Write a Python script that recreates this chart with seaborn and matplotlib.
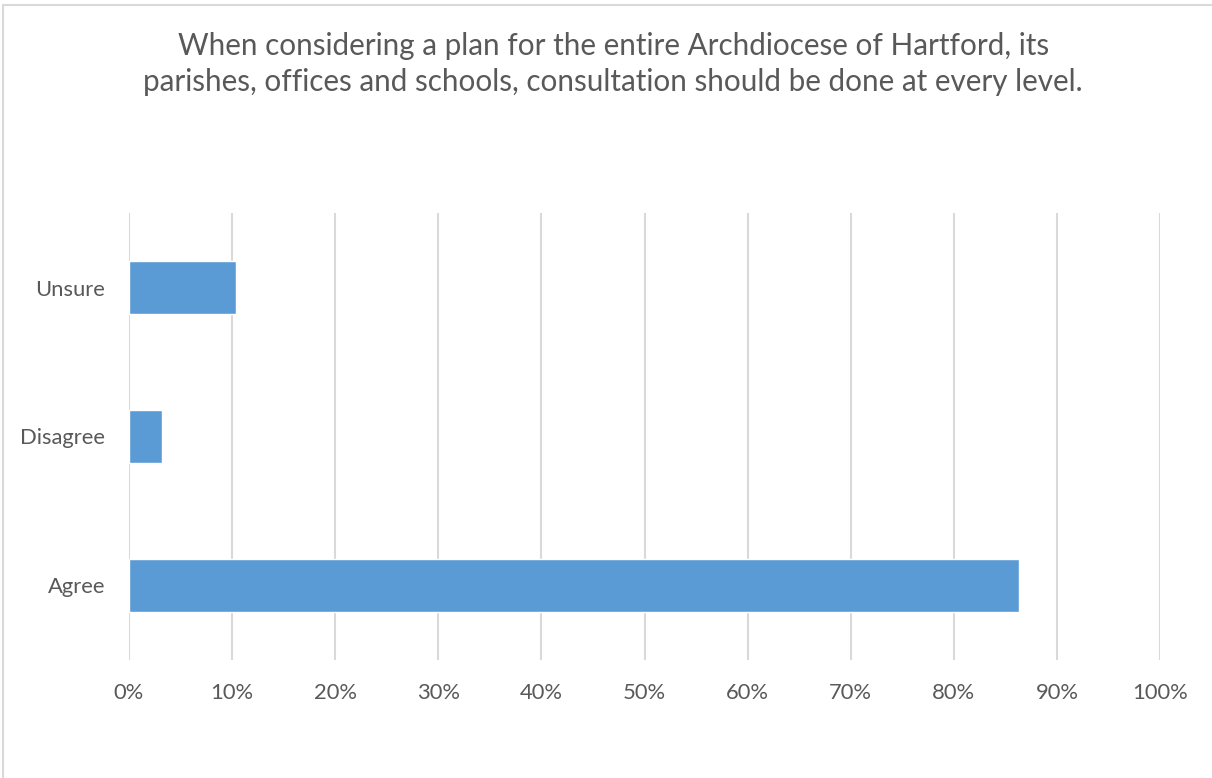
import matplotlib
matplotlib.use("Agg")
import matplotlib.pyplot as plt
import seaborn as sns
import pandas as pd
from matplotlib.lines import Line2D
from matplotlib.ticker import FuncFormatter, MultipleLocator

# values (share of responses, %)
answers = ["Unsure", "Disagree", "Agree"]
shares = [10.4, 3.2, 86.3]
title = ("When considering a plan for the entire Archdiocese of Hartford, its\n"
         "parishes, offices and schools, consultation should be done at every level.")

df = pd.DataFrame({"answer": answers, "share": shares})

sns.set_style("white")
plt.rcParams["font.family"] = ["Lato", "DejaVu Sans"]

fig = plt.figure(figsize=(12.12, 7.78), dpi=100)
ax = fig.add_axes([0.1064, 0.1517, 0.8508, 0.5745])

sns.barplot(data=df, x="share", y="answer", orient="h", color="#5b9bd5",
            saturation=1, width=0.35, ax=ax)

ax.set_xlim(0, 100)
ax.set_ylim(2.5, -0.5)
ax.xaxis.set_major_locator(MultipleLocator(10))
ax.xaxis.set_major_formatter(FuncFormatter(lambda v, p: f"{v:.0f}%"))
ax.grid(axis="x", color="#d9d9d9", linewidth=1.5)
ax.set_axisbelow(True)
for s in ax.spines.values():
    s.set_visible(False)
ax.set_xlabel("")
ax.set_ylabel("")
ax.tick_params(axis="both", length=0, labelsize=15.8, labelcolor="#595959")
ax.tick_params(axis="x", pad=16.5)
ax.tick_params(axis="y", pad=17)

fig.text(0.506, 0.918, title, ha="center", va="center", fontsize=21.3,
         color="#595959", linespacing=1.35)

# chart-area border (top and left edges visible)
fig.add_artist(Line2D([3 / 1212, 1.0], [1 - 5 / 778, 1 - 5 / 778],
                      transform=fig.transFigure, color="#d9d9d9", lw=1.5))
fig.add_artist(Line2D([3 / 1212, 3 / 1212], [0, 1 - 5 / 778],
                      transform=fig.transFigure, color="#d9d9d9", lw=1.5))

fig.savefig("out.png", dpi=100, facecolor="white")
